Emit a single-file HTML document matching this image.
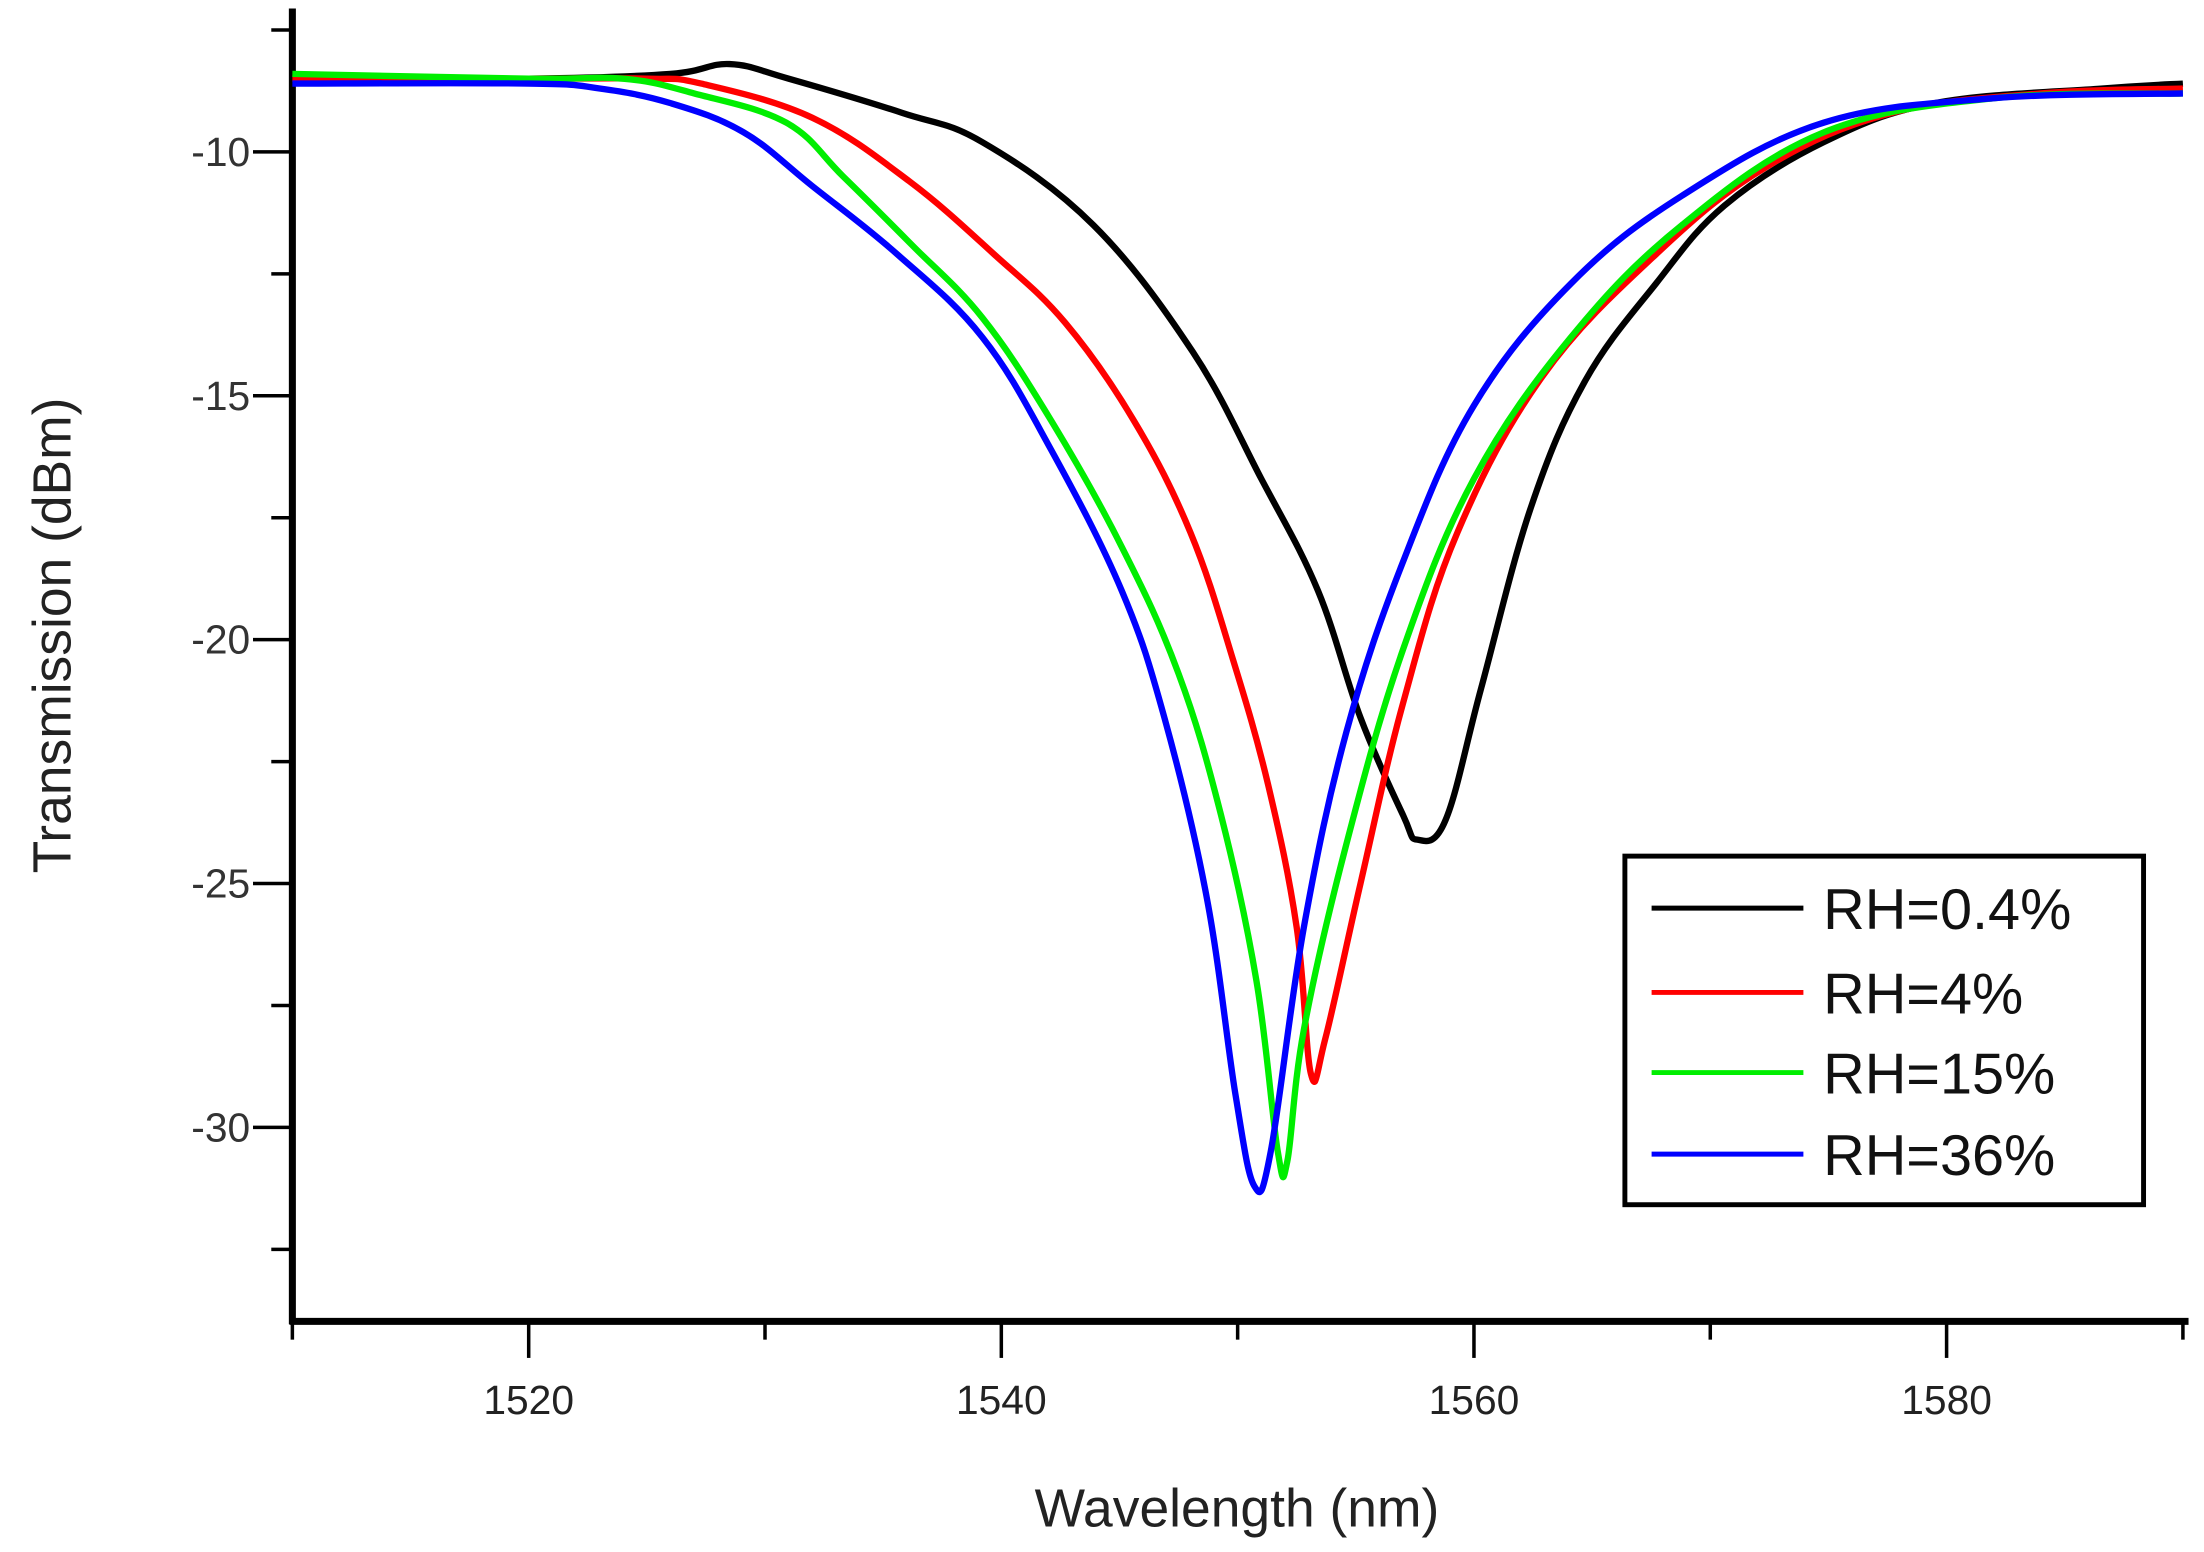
<!DOCTYPE html>
<html><head><meta charset="utf-8"><style>
html,body{margin:0;padding:0;background:#fff;}
svg{display:block;font-family:"Liberation Sans",Arial,sans-serif;}
</style></head><body>
<svg id="chart" width="2204" height="1552" viewBox="0 0 1568 1104" xmlns="http://www.w3.org/2000/svg">
<g id="axes"></g>
<g id="series"></g>
<text x="880" y="1086" font-size="38" text-anchor="middle" fill="#222">Wavelength (nm)</text>
<text transform="translate(50,452) rotate(-90)" font-size="38" text-anchor="middle" fill="#222">Transmission (dBm)</text>
<g>
<rect x="1156" y="609" width="369" height="248" fill="#fff" stroke="#000" stroke-width="3.5"/>
<g id="legend-entries"></g>
</g>
</svg>
<script>
const xTicks=[1520,1540,1560,1580];
const xMinor=[1510,1530,1550,1570,1590];
const yTicks=[-10,-15,-20,-25,-30];
const yMinor=[-7.5,-12.5,-17.5,-22.5,-27.5,-32.5];
const seriesNames=["RH=0.4%","RH=4%","RH=15%","RH=36%"];
const seriesColors=["#000000","#ff0000","#00ee00","#0000ff"];
const wlBlack=[1510,1520,1526,1528.5,1531,1535.8,1539.2,1543.9,1548.1,1551,1553.4,1555.2,1557,1557.6,1558.8,1560.3,1562.4,1564.7,1567.7,1570.6,1574.8,1579.5,1586.6,1590];
const tBlack=[-8.5,-8.5,-8.4,-8.2,-8.5,-9.2,-9.8,-11.5,-14.1,-16.7,-19,-21.6,-23.6,-24.1,-23.7,-21,-17.3,-14.7,-12.7,-11.1,-9.8,-9.0,-8.7,-8.6];
const wlRed=[1510,1520,1525,1527.3,1532,1536.1,1539.7,1542.7,1545.6,1548,1549.8,1551.3,1552.5,1553.1,1553.7,1555.2,1557,1559.3,1562.9,1567.7,1572.4,1577.7,1584,1590];
const tRed=[-8.5,-8.5,-8.5,-8.6,-9.3,-10.6,-12.1,-13.5,-15.5,-17.8,-20.4,-23,-25.9,-28.9,-28.2,-25,-21.3,-17.8,-14.6,-12.1,-10.3,-9.2,-8.8,-8.7];
const wlGreen=[1510,1520,1524,1527,1530.9,1533.3,1536.2,1539.2,1542.1,1545.1,1547.5,1549.3,1550.8,1551.7,1552.1,1552.8,1554.6,1557,1560,1564.1,1568.8,1574.8,1582,1590];
const tGreen=[-8.4,-8.5,-8.5,-8.8,-9.4,-10.5,-11.9,-13.4,-15.5,-18.1,-20.7,-23.6,-27,-30.5,-30.7,-28,-24.2,-20.2,-16.7,-13.8,-11.5,-9.6,-8.9,-8.8];
const wlBlue=[1510,1520,1523,1526,1529.1,1532,1535.6,1539.2,1542.1,1545.1,1546.9,1548.7,1549.9,1550.7,1551.4,1552.8,1554.6,1557,1560,1564.1,1568.8,1574.8,1582,1590];
const tBlue=[-8.6,-8.6,-8.7,-9.0,-9.6,-10.7,-12.1,-13.8,-16.1,-19,-21.6,-25.3,-29.3,-31.2,-30.5,-25.9,-21.9,-18.4,-15.2,-12.7,-10.9,-9.4,-8.9,-8.8];

const NS="http://www.w3.org/2000/svg";
const X0=208,X1=1553,Y0=940;
function xs(v){return X0+(v-1510)*(X1-X0)/80;}
function ys(v){return 108+(-10-v)*34.7;}
function mk(tag,attrs,parent){const e=document.createElementNS(NS,tag);for(const k in attrs)e.setAttribute(k,attrs[k]);parent.appendChild(e);return e;}
function smooth(p){
 let d='M'+p[0][0].toFixed(1)+','+p[0][1].toFixed(1);
 for(let i=0;i<p.length-1;i++){
  const a=p[Math.max(0,i-1)],b=p[i],c=p[i+1],n=p[Math.min(p.length-1,i+2)];
  const t=0.18;
  const c1x=b[0]+(c[0]-a[0])*t,c1y=b[1]+(c[1]-a[1])*t;
  const c2x=c[0]-(n[0]-b[0])*t,c2y=c[1]-(n[1]-b[1])*t;
  d+=' C'+c1x.toFixed(1)+','+c1y.toFixed(1)+' '+c2x.toFixed(1)+','+c2y.toFixed(1)+' '+c[0].toFixed(1)+','+c[1].toFixed(1);
 }
 return d;
}
const axes=document.getElementById('axes');
let e;
e=mk('line',{x1:X0,y1:6,x2:X0,y2:Y0+2,stroke:'#000','stroke-width':5},axes);


e=mk('line',{x1:X0-2,y1:Y0,x2:1557,y2:Y0,stroke:'#000','stroke-width':5},axes);


xTicks.forEach(v=>{
 e=mk('line',{x1:xs(v),y1:Y0,x2:xs(v),y2:Y0+26,stroke:'#000','stroke-width':2.5},axes);
 
 
 e=mk('text',{x:xs(v),y:1006,'font-size':29,'text-anchor':'middle',fill:'#222'},axes);
 e.textContent=v;
 
 
});
xMinor.forEach(v=>{
 e=mk('line',{x1:xs(v),y1:Y0,x2:xs(v),y2:Y0+13,stroke:'#000','stroke-width':2.5},axes);
 
 
});
yTicks.forEach(v=>{
 e=mk('line',{x1:X0-28,y1:ys(v),x2:X0,y2:ys(v),stroke:'#000','stroke-width':2.5},axes);
 
 
 e=mk('text',{x:178,y:ys(v)+10,'font-size':29,'text-anchor':'end',fill:'#333'},axes);
 e.textContent=v;
 
 
});
yMinor.forEach(v=>{
 e=mk('line',{x1:X0-15,y1:ys(v),x2:X0,y2:ys(v),stroke:'#000','stroke-width':2.5},axes);
 
 
});
const ser=document.getElementById('series');
const allWl=[wlBlack,wlRed,wlGreen,wlBlue];
const allT=[tBlack,tRed,tGreen,tBlue];
const ids=['series-rh-0-4','series-rh-4','series-rh-15','series-rh-36'];
allWl.forEach((wl,i)=>{
 const pts=wl.map((w,j)=>[xs(w),ys(allT[i][j])]);
 e=mk('path',{d:smooth(pts),fill:'none',stroke:seriesColors[i],'stroke-width':4.5,'stroke-linejoin':'round'},ser);
 
 
});
const leg=document.getElementById('legend-entries');
const ly=[646,706,763,821];
seriesNames.forEach((n,i)=>{
 e=mk('line',{x1:1175,y1:ly[i],x2:1283,y2:ly[i],stroke:seriesColors[i],'stroke-width':3.5},leg);
 
 
 e=mk('text',{x:1297,y:ly[i]+15,'font-size':41,fill:'#111'},leg);
 e.textContent=n;
 
 
});
</script>
</body></html>
